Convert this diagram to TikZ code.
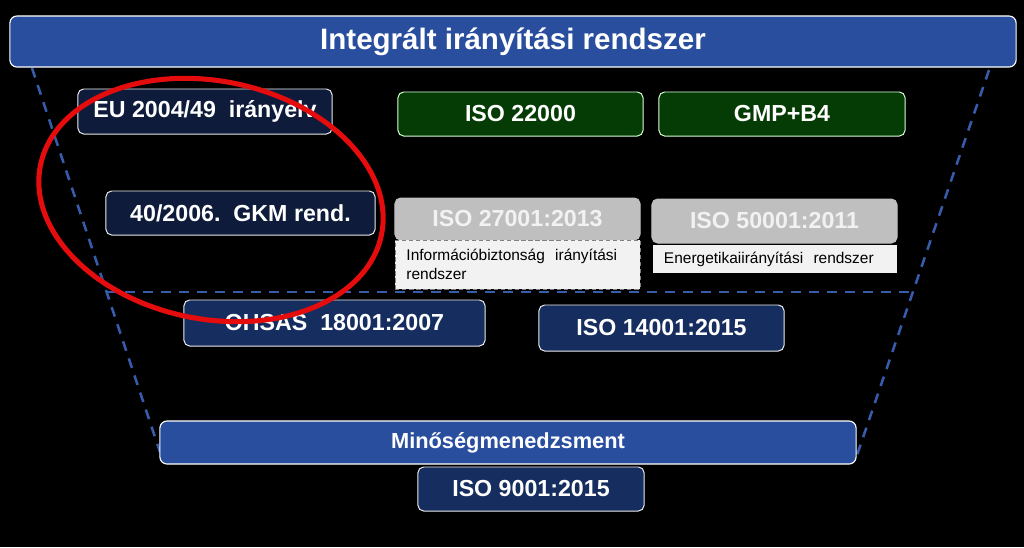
\documentclass[tikz,border=0pt]{standalone}
\usepackage{fontspec}
\setmainfont{Liberation Sans}
\usepackage{tikz}
\usetikzlibrary{positioning}

\definecolor{barblue}{RGB}{42,78,158}
\definecolor{darknavy}{RGB}{14,27,58}
\definecolor{midnavy}{RGB}{22,45,96}
\definecolor{darkgreen}{RGB}{5,60,5}
\definecolor{greybox}{RGB}{191,191,191}
\definecolor{lightbox}{RGB}{242,242,242}
\definecolor{dashblue}{RGB}{55,92,172}
\definecolor{ringred}{RGB}{228,12,12}

\begin{document}
\begin{tikzpicture}[x=0.025cm, y=-0.025cm,
    bigfont/.style={font=\bfseries\fontsize{16.5}{19}\selectfont},
    stdbox/.style={draw=white!85!gray, line width=0.7pt, rounded corners=4pt,
        text=white, bigfont, minimum height=1.1cm, inner sep=0pt},
    navybox/.style={stdbox, fill=darknavy},
    bluebox/.style={stdbox, fill=midnavy},
    greenbox/.style={stdbox, fill=darkgreen, draw=green!15!white},
    greybx/.style={stdbox, fill=greybox, draw=greybox, text=lightbox},
    notebox/.style={fill=lightbox, text=black, font=\fontsize{11}{14}\selectfont,
        align=left, inner sep=0pt, inner xsep=8pt},
    bar/.style={draw=white, line width=0.8pt, rounded corners=5pt, fill=barblue,
        text=white, inner sep=0pt}]

        % Background and picture size
        \fill[black] (0,0) rectangle (1024,547);

        % Corners of the dashed funnel
        \coordinate (TL) at (32,68);   % top left
        \coordinate (BL) at (160,452); % bottom left
        \coordinate (TR) at (989,70);  % top right
        \coordinate (BR) at (857,455); % bottom right
        \coordinate (ML) at (107,292); % middle left
        \coordinate (MR) at (913,292); % middle right

        % --- Dashed funnel outline ---
        \draw[dashblue, line width=1.8pt, dash pattern=on 0.25cm off 0.2cm] (TL) -- (BL);
        \draw[dashblue, line width=1.8pt, dash pattern=on 0.25cm off 0.2cm] (TR) -- (BR);
        \draw[dashblue, line width=1.8pt, dash pattern=on 0.25cm off 0.2cm] (ML) -- (MR);

        % --- Top bar ---
        \node[bar, minimum width=25.15cm, minimum height=1.275cm,
              font=\bfseries\fontsize{21}{24}\selectfont] (integr) at (513,41.5)
              {Integrált irányítási rendszer};

        % --- Upper row ---
        \node[navybox, minimum width=6.35cm, minimum height=1.125cm] (eu) at (205,111.5) {EU 2004/49\ \ irányelv};
        \node[greenbox, minimum width=6.125cm] (iso22) at (520.5,114) {ISO 22000};
        \node[greenbox, minimum width=6.15cm] (gmp) at (782,114) {GMP+B4};

        % --- Second row ---
        \node[navybox, minimum width=6.725cm] (gkm) at (240.5,213) {40/2006.\ \ GKM rend.};
        \node[greybx, minimum width=6.125cm, minimum height=1.05cm] (iso27) at (517.5,219) {ISO 27001:2013};
        \node[notebox, draw=gray, densely dashed, line width=0.4pt, text width=5.55cm,
              minimum height=1.225cm] (info) at (517.5,264.5)
              {Információbiztonság\ \ irányítási\\rendszer};
        \node[greybx, minimum width=6.125cm] (iso50) at (774.5,221) {ISO 50001:2011};
        \node[notebox, text width=5.55cm, minimum height=0.7cm] (energy) at (775,259)
              {Energetikaiirányítási\ \ rendszer};

        % --- Third row ---
        \node[bluebox, minimum width=7.525cm, minimum height=1.15cm] (ohsas) at (334.5,323) {OHSAS\ \ 18001:2007};
        \node[bluebox, minimum width=6.125cm, minimum height=1.15cm] (iso14) at (661.5,328) {ISO 14001:2015};

        % --- Bottom bar and base standard ---
        \node[bar, minimum width=17.4cm, minimum height=1.075cm,
              font=\bfseries\fontsize{15.5}{18}\selectfont] (minoseg) at (508,442.5)
              {Minőségmenedzsment};
        \node[bluebox, minimum width=5.65cm] (iso9) at (531,489) {ISO 9001:2015};

        % --- Red highlight ring ---
        \coordinate (ring) at (211,200);
        \draw[ringred, line width=3.6pt, rotate around={-11.5:(ring)}]
            (ring) ellipse [x radius=174, y radius=119];

\end{tikzpicture}
\end{document}
